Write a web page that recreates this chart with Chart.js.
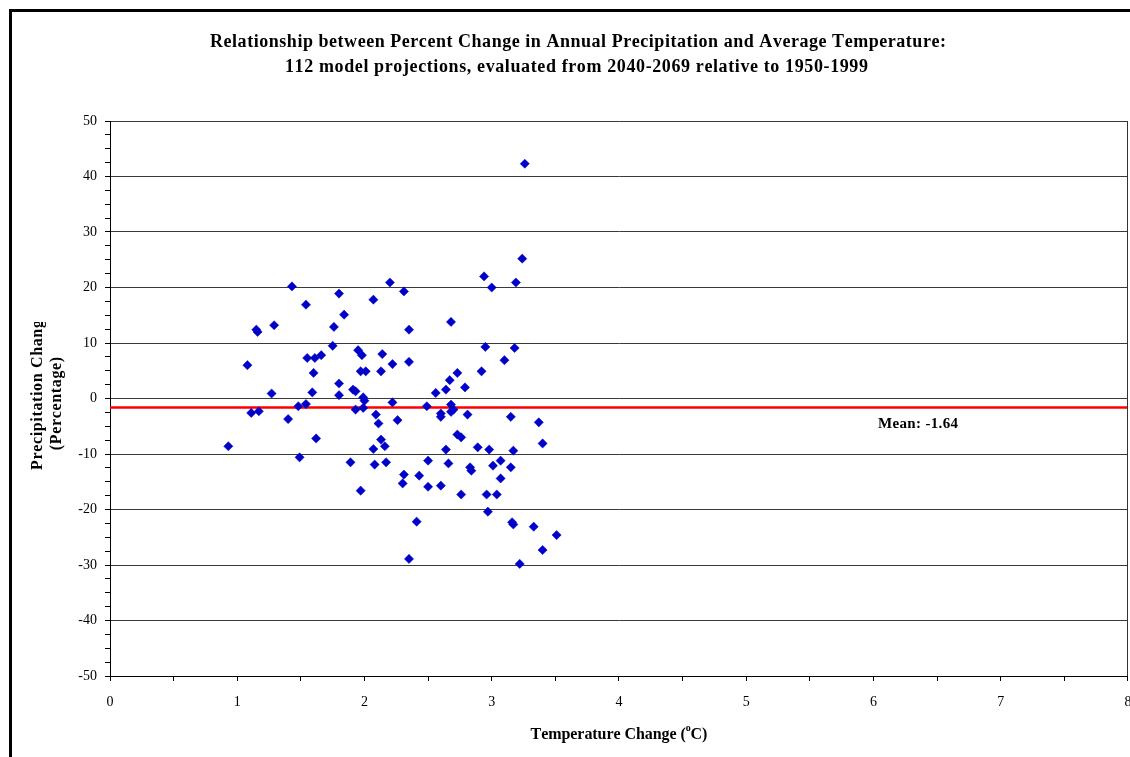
<!DOCTYPE html>
<html>
<head>
<meta charset="utf-8">
<script src="https://cdn.jsdelivr.net/npm/chart.js@4.4.1/dist/chart.umd.min.js"></script>
<style>
  html, body { margin: 0; padding: 0; background: #ffffff; overflow: hidden; }
  #c { display: block; }
</style>
</head>
<body>
<canvas id="c" width="1133" height="757"></canvas>
<script>
// ---------- data ----------
const titleLines = [
  "Relationship between Percent Change in Annual Precipitation and Average Temperature:",
  "112 model projections, evaluated from 2040-2069 relative to 1950-1999"
];
const xAxisTitle = "Temperature Change (";
const xAxisUnit = "C)";
const yAxisTitleLines = ["Precipitation Change", "(Percentage)"];
const meanPrecip = -1.64;
const meanLabel = "Mean: -1.64";
const xTickLabels = [0, 1, 2, 3, 4, 5, 6, 7, 8];
const yTickLabels = [-50, -40, -30, -20, -10, 0, 10, 20, 30, 40, 50];

const tempChange = [
  1.43, 2.20, 1.80, 2.07, 1.54, 1.84, 1.15, 1.16, 1.29, 1.76,
  1.75, 1.95, 1.98, 2.14, 1.55, 1.61, 1.66, 1.08, 2.22, 1.60,
  1.97, 2.01, 2.13, 1.80, 1.27, 1.59, 1.80, 1.91, 1.93, 1.99,
  2.00, 2.22, 1.48, 1.54, 1.11, 1.17, 1.93, 1.99, 2.09, 1.40,
  2.26, 2.11, 0.93, 1.62, 2.13, 2.07, 2.16, 1.49, 1.89, 2.08,
  2.17, 1.97, 2.31, 2.94, 3.00, 3.19, 2.68, 2.35, 2.35, 2.95,
  3.18, 3.10, 2.92, 2.73, 2.67, 2.64, 2.56, 2.79, 2.49, 2.68,
  2.70, 2.68, 2.60, 2.81, 3.15, 2.60, 3.37, 2.73, 2.76, 2.64,
  2.89, 2.98, 3.17, 3.40, 2.50, 2.66, 2.31, 2.30, 2.43, 2.50,
  2.60, 2.83, 2.84, 3.01, 3.07, 3.15, 3.07, 2.76, 2.96, 3.04,
  2.97, 2.41, 3.16, 3.17, 3.33, 3.51, 3.40, 2.35, 3.22, 3.26,
  3.24
];
const precipChange = [
  20.2, 20.9, 18.9, 17.8, 16.9, 15.1, 12.4, 12.0, 13.2, 12.9,
  9.5, 8.7, 7.8, 8.0, 7.3, 7.3, 7.8, 6.0, 6.2, 4.6,
  4.9, 4.9, 4.9, 2.7, 0.9, 1.1, 0.6, 1.6, 1.3, 0.2,
  -0.4, -0.7, -1.4, -1.0, -2.6, -2.3, -2.0, -1.7, -2.9, -3.7,
  -3.9, -4.5, -8.6, -7.2, -7.4, -9.1, -8.6, -10.6, -11.5, -11.9,
  -11.5, -16.6, 19.3, 22.0, 20.0, 20.9, 13.8, 12.4, 6.6, 9.3,
  9.1, 6.9, 4.9, 4.6, 3.3, 1.6, 1.0, 2.0, -1.4, -1.1,
  -2.0, -2.4, -2.7, -2.9, -3.3, -3.3, -4.3, -6.5, -7.0, -9.2,
  -8.8, -9.2, -9.4, -8.1, -11.2, -11.7, -13.7, -15.3, -13.9, -15.9,
  -15.7, -12.4, -13.0, -12.1, -11.2, -12.4, -14.4, -17.3, -17.3, -17.3,
  -20.4, -22.2, -22.3, -22.7, -23.1, -24.6, -27.3, -28.9, -29.8, 42.3,
  25.2
];

const points = tempChange.map((t, i) => ({ x: t, y: precipChange[i] }));

const SERIF = '"Liberation Serif", "Times New Roman", serif';

// spacing needed so that text spans target width
function spacingFor(ctx, text, font, target) {
  ctx.save();
  ctx.font = font;
  const w = ctx.measureText(text).width;
  ctx.restore();
  return (target - w) / Math.max(1, text.length - 1);
}
function drawSpaced(ctx, text, font, spacing, xLeft, y) {
  ctx.font = font;
  ctx.textAlign = 'left';
  let x = xLeft;
  for (const ch of text) {
    ctx.fillText(ch, x, y);
    x += ctx.measureText(ch).width + spacing;
  }
  return x - spacing;
}
function spacedWidth(ctx, text, font, spacing) {
  ctx.font = font;
  let w = 0;
  for (const ch of text) w += ctx.measureText(ch).width + spacing;
  return w - spacing;
}

// ---------- decorations plugin ----------
const decor = {
  id: 'decor',
  beforeDraw(chart) {
    const ctx = chart.ctx;
    ctx.save();
    ctx.fillStyle = '#ffffff';
    ctx.fillRect(0, 0, chart.width, chart.height);
    ctx.restore();
  },
  afterDraw(chart) {
    const ctx = chart.ctx;
    const ca = chart.chartArea;
    const ys = chart.scales.y;
    ctx.save();
    // outer frame
    ctx.strokeStyle = '#000';
    ctx.lineWidth = 3;
    ctx.beginPath();
    ctx.moveTo(10.5, chart.height);
    ctx.lineTo(10.5, 10.5);
    ctx.lineTo(chart.width, 10.5);
    ctx.stroke();

    // plot area right border
    ctx.lineWidth = 1;
    ctx.strokeStyle = '#333';
    ctx.beginPath();
    ctx.moveTo(Math.round(ca.right) - 0.5, ca.top);
    ctx.lineTo(Math.round(ca.right) - 0.5, ca.bottom);
    ctx.stroke();

    ctx.fillStyle = '#000';
    ctx.textBaseline = 'middle';

    // title
    const tFont = 'bold 18px ' + SERIF;
    const s1 = spacingFor(ctx, titleLines[0], tFont, 732);
    drawSpaced(ctx, titleLines[0], tFont, s1, 210, 42);
    const s2 = spacingFor(ctx, titleLines[1], tFont, 581);
    drawSpaced(ctx, titleLines[1], tFont, s2, 285, 67);

    // x axis title with superscript
    const aFont = 'bold 16px ' + SERIF;
    const supFont = 'bold 10px ' + SERIF;
    const sx0 = spacingFor(ctx, xAxisTitle + 'o' + xAxisUnit, aFont, 178);
    const w1 = spacedWidth(ctx, xAxisTitle, aFont, sx0);
    const wo = spacedWidth(ctx, 'o', supFont, 0);
    const w2 = spacedWidth(ctx, xAxisUnit, aFont, sx0);
    const total = w1 + wo + w2 + 2 * sx0;
    let sx = 619 - total / 2;
    drawSpaced(ctx, xAxisTitle, aFont, sx0, sx, 735);
    drawSpaced(ctx, 'o', supFont, 0, sx + w1 + sx0, 728);
    drawSpaced(ctx, xAxisUnit, aFont, sx0, sx + w1 + wo + 2 * sx0, 735);

    // y axis title (first line clipped at top as in reference)
    const yFont = 'bold 16px ' + SERIF;
    const sy = spacingFor(ctx, yAxisTitleLines[1], yFont, 93);
    ctx.save();
    ctx.beginPath();
    ctx.rect(0, 322, 105, 400);
    ctx.clip();
    ctx.translate(38, 470);
    ctx.rotate(-Math.PI / 2);
    drawSpaced(ctx, yAxisTitleLines[0], yFont, sy, 0, 0);
    ctx.restore();
    ctx.save();
    const wp = spacedWidth(ctx, yAxisTitleLines[1], yFont, sy);
    ctx.translate(57, 403.5);
    ctx.rotate(-Math.PI / 2);
    drawSpaced(ctx, yAxisTitleLines[1], yFont, sy, -wp / 2, 0);
    ctx.restore();

    // mean label
    const mFont = 'bold 15px ' + SERIF;
    const sm = spacingFor(ctx, meanLabel, mFont, 80);
    drawSpaced(ctx, meanLabel, mFont, sm, 878, ys.getPixelForValue(meanPrecip) + 17);
    ctx.restore();
  }
};

new Chart(document.getElementById('c'), {
  type: 'scatter',
  data: {
    datasets: [
      {
        label: 'Projections',
        data: points,
        pointStyle: 'rectRot',
        pointRadius: 4.6,
        pointHoverRadius: 4.6,
        backgroundColor: '#0000c8',
        borderColor: '#0000c8',
        borderWidth: 0.5,
        order: 0
      },
      {
        type: 'line',
        label: 'Mean',
        data: [{ x: xTickLabels[0], y: meanPrecip }, { x: xTickLabels[xTickLabels.length - 1], y: meanPrecip }],
        borderColor: '#ff0000',
        borderWidth: 2.5,
        pointRadius: 0,
        fill: false,
        order: 1
      }
    ]
  },
  options: {
    responsive: false,
    animation: false,
    events: [],
    layout: { padding: { left: 0, top: 121, right: 0, bottom: 0 } },
    plugins: {
      legend: { display: false },
      tooltip: { enabled: false },
      title: { display: false }
    },
    scales: {
      x: {
        type: 'linear',
        min: xTickLabels[0],
        max: xTickLabels[xTickLabels.length - 1],
        afterFit(s) { s.height = 81; s.paddingRight = 0; s.paddingLeft = 0; },
        ticks: {
          stepSize: 0.5,
          autoSkip: false,
          maxRotation: 0,
          padding: 13,
          color: '#000',
          font: { family: SERIF, size: 14 },
          callback: v => (xTickLabels.includes(v) ? String(v) : '')
        },
        grid: {
          drawOnChartArea: false,
          drawTicks: true,
          tickLength: 5,
          tickColor: '#000'
        },
        border: { display: true, color: '#000', width: 1 }
      },
      y: {
        type: 'linear',
        min: yTickLabels[0],
        max: yTickLabels[yTickLabels.length - 1],
        afterFit(s) { s.width = 110; },
        ticks: {
          stepSize: 2.5,
          autoSkip: false,
          padding: 8,
          color: '#000',
          font: { family: SERIF, size: 14 },
          callback: v => (yTickLabels.includes(v) ? String(v) : '')
        },
        grid: {
          drawOnChartArea: true,
          tickLength: 5,
          tickColor: '#000',
          lineWidth: 1,
          color: c => (c.tick && yTickLabels.includes(c.tick.value) ? '#3a3a3a' : 'rgba(0,0,0,0)')
        },
        border: { display: true, color: '#000', width: 1 }
      }
    }
  },
  plugins: [decor]
});
</script>
</body>
</html>
